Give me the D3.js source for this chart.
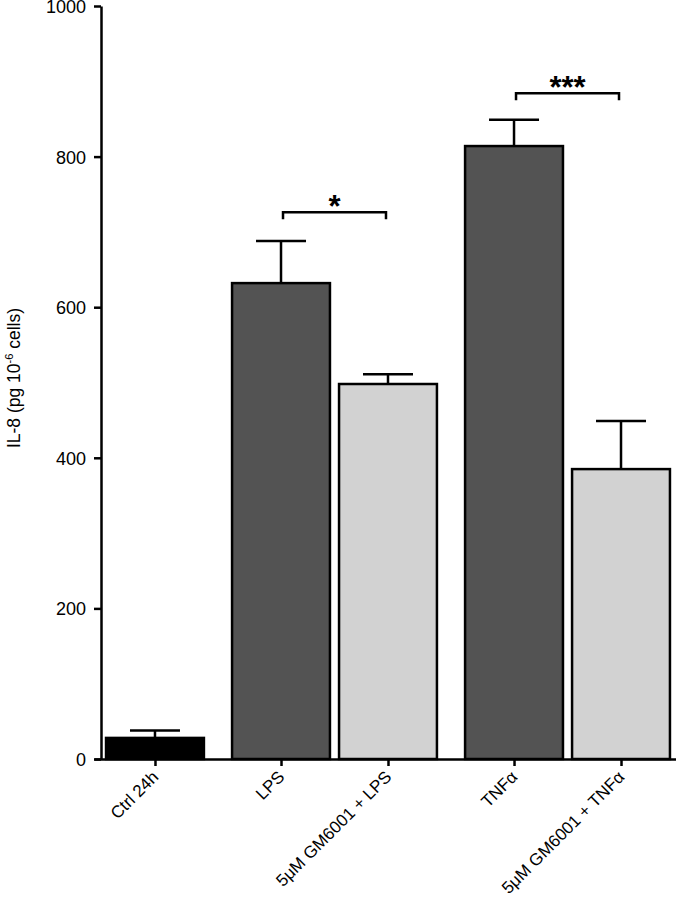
<!DOCTYPE html>
<html>
<head>
<meta charset="utf-8">
<script src="https://cdn.jsdelivr.net/npm/d3@7"></script>
<style>
  body { margin: 0; background: #fff; }
  text { font-family: "Liberation Sans", Arial, Helvetica, sans-serif; fill: #000; }
</style>
</head>
<body>
<svg id="chart" width="676" height="899"></svg>
<script>
// data
const categories = ["Ctrl 24h", "LPS", "5\u03bcM GM6001 + LPS", "TNF\u03b1", "5\u03bcM GM6001 + TNF\u03b1"];
const groups = [0, 1, 1, 2, 2];          // Ctrl | LPS pair | TNF pair
const values = [28, 632, 498, 814, 385];
const errors = [10, 56, 13, 35, 64];
const fills = ["#000000", "#535353", "#d2d2d2", "#535353", "#d2d2d2"];
const yTicks = [0, 200, 400, 600, 800, 1000];
const sigPairs = [
  { from: 1, to: 2, level: 726, label: "*" },
  { from: 3, to: 4, level: 884, label: "***" }
];

const svg = d3.select("#chart");
const groupGap = 0.178;   // extra space between groups, in bar steps
const barFrac = 0.915;

const slots = categories.map((c, i) => i + groups[i] * groupGap);

const x = d3.scaleLinear().domain([-0.57, 4.87]).range([94, 676]);
const y = d3.scaleLinear().domain([0, 1000]).range([759, 6]);
const halfBar = (x(1) - x(0)) * barFrac / 2;
const capHalf = 25;

// bars
svg.append("g")
  .selectAll("rect")
  .data(values)
  .join("rect")
  .attr("x", (d, i) => x(slots[i]) - halfBar)
  .attr("y", d => y(d))
  .attr("width", halfBar * 2)
  .attr("height", d => y(0) - y(d))
  .style("fill", (d, i) => fills[i])
  .style("stroke", "#000")
  .style("stroke-width", 2.5);

// error bars (upper only)
const err = svg.append("g").style("stroke", "#000").style("stroke-width", 2.5);
values.forEach((v, i) => {
  const cx = x(slots[i]);
  err.append("line").attr("x1", cx).attr("x2", cx)
    .attr("y1", y(v)).attr("y2", y(v + errors[i]));
  err.append("line").attr("x1", cx - capHalf).attr("x2", cx + capHalf)
    .attr("y1", y(v + errors[i])).attr("y2", y(v + errors[i]));
});

// y axis
const yAxis = svg.append("g")
  .attr("transform", "translate(101,0)")
  .call(d3.axisLeft(y).tickValues(yTicks).tickFormat(d3.format("d"))
    .tickSize(7).tickSizeOuter(0).tickPadding(8));
yAxis.selectAll("path, line").style("stroke-width", 2.5);
yAxis.selectAll("text").attr("dy", "0.36em")
  .style("font-size", "18px").style("font-family", "Liberation Sans, Arial, sans-serif");

// x axis
const xAxis = svg.append("g")
  .attr("transform", `translate(0,${y(0)})`)
  .call(d3.axisBottom(x).tickValues(slots).tickFormat((d, i) => categories[i])
    .tickSize(7).tickSizeOuter(0));
xAxis.selectAll("path, line").style("stroke-width", 2.5);
xAxis.selectAll("text")
  .attr("x", 0).attr("y", 0).attr("dy", 0)
  .attr("text-anchor", "end")
  .attr("transform", "translate(4,19) rotate(-45)")
  .style("font-size", "17px")
  .style("font-family", "Liberation Sans, Arial, sans-serif");

// y label
const yl = svg.append("text")
  .attr("transform", "translate(20,378) rotate(-90)")
  .attr("text-anchor", "middle")
  .style("font-size", "17.5px");
yl.append("tspan").text("IL-8 (pg 10");
yl.append("tspan").attr("dy", -7).style("font-size", "11px").text("-6");
yl.append("tspan").attr("dy", 7).text(" cells)");

// significance brackets
const sig = svg.append("g");
sigPairs.forEach(p => {
  const x1 = x(slots[p.from]) + 2, x2 = x(slots[p.to]) - 2, yy = y(p.level);
  sig.append("path")
    .attr("d", `M${x1},${yy + 7}V${yy}H${x2}V${yy + 7}`)
    .style("fill", "none").style("stroke", "#000").style("stroke-width", 2.5);
  sig.append("text")
    .attr("x", (x1 + x2) / 2).attr("y", yy + 5)
    .attr("text-anchor", "middle")
    .style("font-size", "31px").style("font-weight", "bold")
    .text(p.label);
});
</script>
</body>
</html>
